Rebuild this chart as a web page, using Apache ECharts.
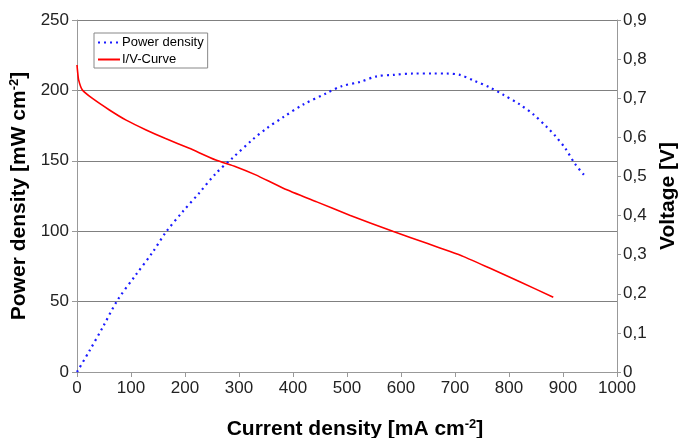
<!DOCTYPE html>
<html><head><meta charset="utf-8">
<script src="https://cdn.jsdelivr.net/npm/echarts@6/dist/echarts.min.js"></script>
<style>html,body{margin:0;padding:0;background:#fff}#c{width:678px;height:438px}</style>
</head><body><div id="c"></div>
<script>
// Power density curve (left axis)
const currentP = [0,23,48,75,109,140,164,196,226,257,288,325,351,382,419,462,490,524,555,586,623,660,684,709,735,765,789,820,845,870,885,904,922,941];
const powerDensity = [0,15,32,51,69,85,99,114,127,141,152,165,173,181,190,198,203,206,210,211,212,212,212,211,207,202,197,190,183,174,168,159,148,139];
// I/V curve (right axis)
const currentV = [0,1,3,10,28,60,91,128,164,208,257,294,331,382,444,505,586,648,691,716,765,820,882];
const voltage = [0.785,0.77,0.747,0.721,0.70,0.67,0.644,0.619,0.597,0.572,0.542,0.525,0.504,0.470,0.435,0.401,0.359,0.329,0.308,0.295,0.265,0.231,0.191];
const seriesNames = ['Power density','I/V-Curve'];

const font = 'Liberation Sans, Arial, sans-serif';
const chart = echarts.init(document.getElementById('c'));
const titleRich = {
  b: {fontFamily: font, fontWeight: 'bold', fontSize: 21, color: '#000'},
  sup: {fontFamily: font, fontWeight: 'bold', fontSize: 13, color: '#000', padding: [0,0,10,0]}
};
chart.setOption({
  animation: false,
  grid: {left: 77, right: 61, top: 20, bottom: 66, containLabel: false, outerBoundsMode: 'none'},
  legend: {
    orient: 'vertical', left: 94, top: 33,
    backgroundColor: '#fff', borderColor: '#888', borderWidth: 1,
    padding: [3, 4, 2, 3], itemGap: 4, itemWidth: 22, itemHeight: 12,
    itemStyle: {opacity: 0},
    textStyle: {fontFamily: font, fontSize: 13, color: '#000', padding: [0,0,0,-3]},
    data: seriesNames
  },
  xAxis: {
    type: 'value', min: 0, max: 1000, interval: 100,
    name: '{b|Current density [mA cm}{sup|-2}{b|]}',
    nameLocation: 'middle', nameGap: 46,
    nameTextStyle: {rich: titleRich, padding: [0, 0, 0, 16]},
    axisLine: {lineStyle: {color: '#999'}},
    axisTick: {lineStyle: {color: '#999'}, length: 5},
    axisLabel: {fontFamily: font, fontSize: 17, color: '#222', margin: 8, formatter: v => String(v)},
    splitLine: {show: false}
  },
  yAxis: [{
    type: 'value', min: 0, max: 250, interval: 50, position: 'left',
    name: '{b|Power density [mW cm}{sup|-2}{b|]}',
    nameLocation: 'middle', nameGap: 34,
    nameTextStyle: {rich: titleRich},
    axisLine: {show: true, lineStyle: {color: '#999'}},
    axisTick: {show: true, lineStyle: {color: '#999'}, length: 5},
    axisLabel: {fontFamily: font, fontSize: 17, color: '#222', margin: 8, formatter: v => String(v)},
    splitLine: {show: true, lineStyle: {color: '#808080', width: 1}}
  }, {
    type: 'value', min: 0, max: 0.9, interval: 0.1, position: 'right',
    name: '{b|Voltage [V]}',
    nameLocation: 'middle', nameGap: 39,
    nameTextStyle: {rich: titleRich},
    axisLine: {show: true, lineStyle: {color: '#999'}},
    axisTick: {show: true, lineStyle: {color: '#999'}, length: 4},
    axisLabel: {fontFamily: font, fontSize: 17, color: '#222', margin: 6,
      formatter: v => v === 0 ? '0' : v.toFixed(1).replace('.', ',')},
    splitLine: {show: false}
  }],
  series: [{
    name: seriesNames[0], type: 'line', yAxisIndex: 0, symbol: 'none', smooth: 0.3,
    data: currentP.map((x, i) => [x, powerDensity[i]]),
    lineStyle: {color: '#1a1aff', width: 2.2, type: [2, 4]},
    itemStyle: {color: '#1a1aff'}
  }, {
    name: seriesNames[1], type: 'line', yAxisIndex: 1, symbol: 'none', smooth: 0.2,
    data: currentV.map((x, i) => [x, voltage[i]]),
    lineStyle: {color: '#ff0000', width: 1.6},
    itemStyle: {color: '#ff0000'}
  }]
});
</script></body></html>
